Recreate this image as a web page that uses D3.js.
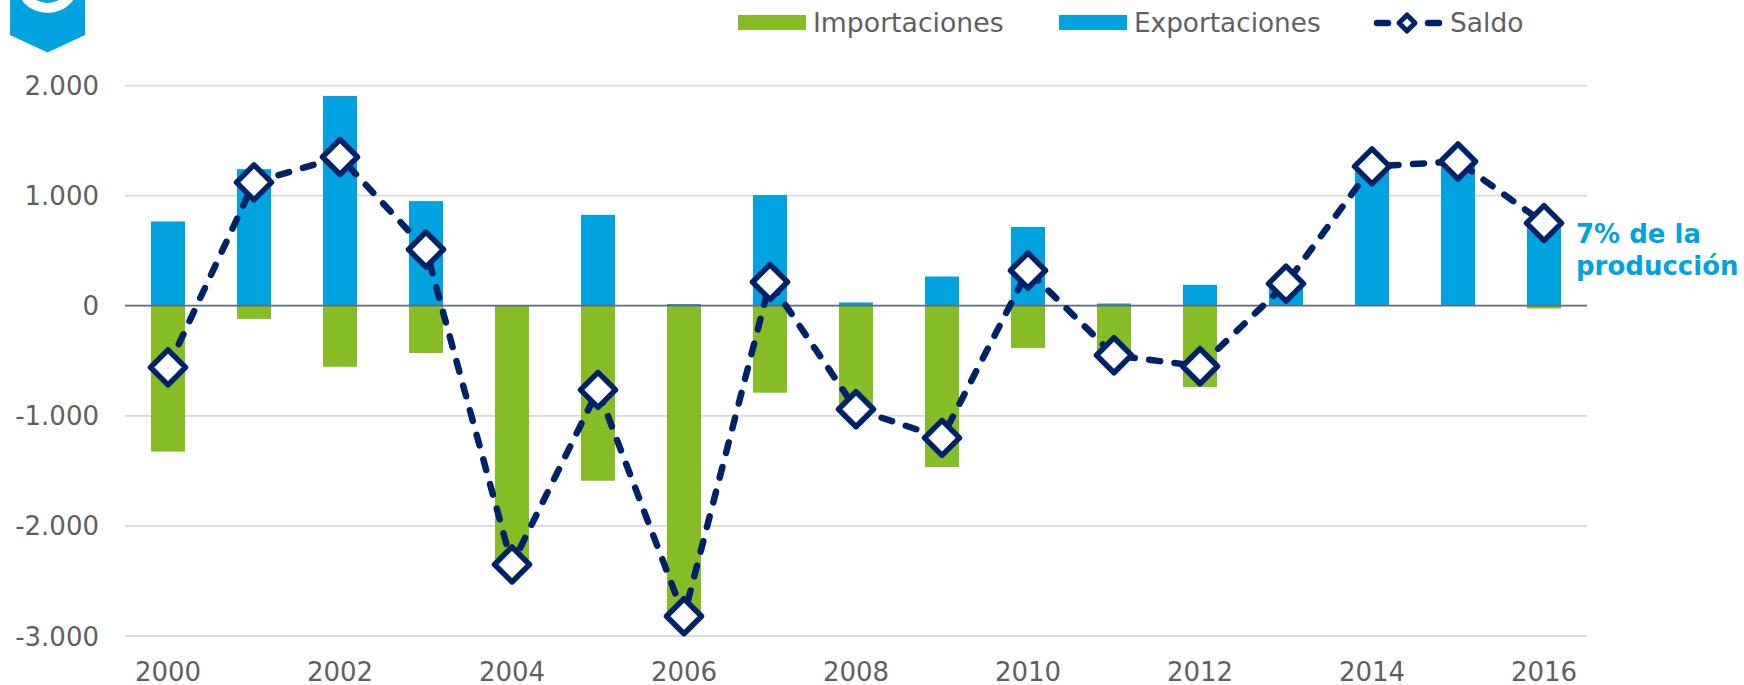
<!DOCTYPE html>
<html><head><meta charset="utf-8">
<script src="https://cdn.jsdelivr.net/npm/d3@7"></script>
<style>html,body{margin:0;padding:0;background:#fff}svg{display:block}text{font-family:"DejaVu Sans",Verdana,sans-serif}</style>
</head><body><svg id="c" width="1744" height="685"></svg>
<script>
const years=[2000,2001,2002,2003,2004,2005,2006,2007,2008,2009,2010,2011,2012,2013,2014,2015,2016];
const exportaciones=[765,1240,1905,950,0,825,15,1005,30,265,715,20,190,200,1270,1320,760];
const importaciones=[-1325,-120,-555,-430,-2350,-1590,-2830,-790,-950,-1465,-385,-460,-740,0,0,0,-25];
const saldo=[-560,1120,1350,510,-2350,-765,-2820,215,-940,-1200,320,-450,-550,200,1265,1310,750];
const yTicks=[2000,1000,0,-1000,-2000,-3000];
const xLabels=[2000,2002,2004,2006,2008,2010,2012,2014,2016];
const legendNames=["Importaciones","Exportaciones","Saldo"];
const noteLines=["7% de la","producción"];
const cGreen="#86BC25",cBlue="#00A3E0",cNavy="#012169",cText="#5F5F5F";

const svg=d3.select("#c");
const x=d3.scaleBand().domain(years).range([125,1587]);
const y=d3.scaleLinear().domain([-3000,2000]).range([636,85.5]);
const fmt=v=>d3.format(",")(v).replace(/,/g,".").replace("−","-");
const bw=34;
const cx=d=>x(d)+x.bandwidth()/2;

// icon
svg.append("path").attr("d","M10,0H85V35L47.5,52.5L10,35Z").attr("fill",cBlue);
svg.append("path").attr("d",d3.arc()({innerRadius:22,outerRadius:32,startAngle:0,endAngle:Math.PI*2})).attr("transform","translate(47.5,-19)").attr("fill","#fff");

// grid
svg.append("g").selectAll("line").data(yTicks.filter(d=>d!==0)).join("line")
 .attr("x1",125).attr("x2",1587).attr("y1",d=>y(d)).attr("y2",d=>y(d))
 .attr("stroke","#D9D9D9").attr("stroke-width",1.75);

// axis labels
svg.append("g").selectAll("text").data(yTicks).join("text")
 .attr("x",99).attr("y",d=>y(d)+9.5).attr("text-anchor","end").attr("font-size",26).attr("fill",cText)
 .text(fmt);
svg.append("g").selectAll("text").data(xLabels).join("text")
 .attr("x",cx).attr("y",681).attr("text-anchor","middle").attr("font-size",26).attr("fill",cText)
 .text(d=>d);

// bars
const rows=years.map((yr,i)=>({yr,e:exportaciones[i],m:importaciones[i],s:saldo[i]}));
svg.append("g").selectAll("rect").data(rows).join("rect")
 .attr("x",d=>cx(d.yr)-bw/2).attr("width",bw).attr("y",y(0)).attr("height",d=>y(d.m)-y(0)).attr("fill",cGreen);
svg.append("g").selectAll("rect").data(rows).join("rect")
 .attr("x",d=>cx(d.yr)-bw/2).attr("width",bw).attr("y",d=>y(d.e)).attr("height",d=>y(0)-y(d.e)).attr("fill",cBlue);

// zero axis
svg.append("line").attr("x1",125).attr("x2",1587).attr("y1",y(0)).attr("y2",y(0)).attr("stroke","#5F6B7A").attr("stroke-width",1.75);

// saldo line
const line=d3.line().x(d=>cx(d.yr)).y(d=>y(d.s));
svg.append("path").datum(rows).attr("d",line).attr("fill","none").attr("stroke",cNavy).attr("stroke-width",6.5)
 .attr("stroke-dasharray","11 14.5").attr("stroke-linecap","round");
const diamond=(s)=>`M0,${-s}L${s},0L0,${s}L${-s},0Z`;
svg.append("g").selectAll("path").data(rows).join("path")
 .attr("d",diamond(17.5)).attr("transform",d=>`translate(${cx(d.yr)},${y(d.s)})`)
 .attr("fill","#fff").attr("stroke",cNavy).attr("stroke-width",5.5).attr("stroke-linejoin","round");

// note
svg.append("g").selectAll("text").data(noteLines).join("text")
 .attr("x",1576).attr("y",(d,i)=>243+i*32).attr("font-size",26).attr("font-weight","bold").attr("fill",cBlue).text(d=>d);

// legend
const lg=svg.append("g");
lg.append("rect").attr("x",738).attr("y",15).attr("width",68).attr("height",15).attr("fill",cGreen);
lg.append("text").attr("x",813).attr("y",32).attr("font-size",26.7).attr("fill",cText).text(legendNames[0]);
lg.append("rect").attr("x",1059).attr("y",15).attr("width",68).attr("height",15).attr("fill",cBlue);
lg.append("text").attr("x",1134).attr("y",32).attr("font-size",26.3).attr("fill",cText).text(legendNames[1]);
lg.append("line").attr("x1",1374).attr("x2",1440).attr("y1",23).attr("y2",23).attr("stroke",cNavy).attr("stroke-width",6.5).attr("stroke-dasharray","11 14.5").attr("stroke-dashoffset",-3).attr("stroke-linecap","round");
lg.append("path").attr("d",diamond(8)).attr("transform","translate(1407,23)").attr("fill","#fff").attr("stroke",cNavy).attr("stroke-width",5).attr("stroke-linejoin","round");
lg.append("text").attr("x",1450).attr("y",32).attr("font-size",26.5).attr("fill",cText).text(legendNames[2]);
</script></body></html>
